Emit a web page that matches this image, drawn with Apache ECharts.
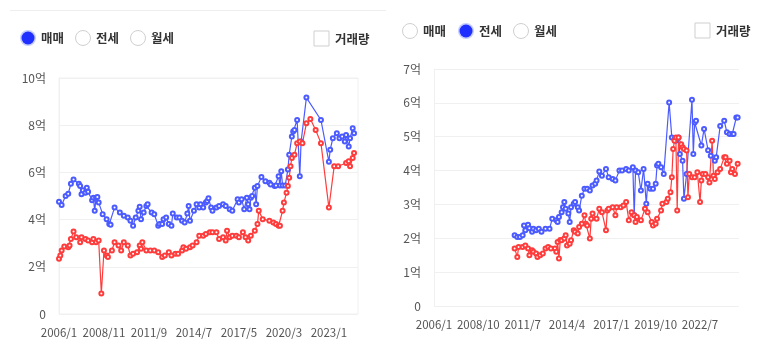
<!DOCTYPE html>
<html><head><meta charset="utf-8">
<script src="https://cdn.jsdelivr.net/npm/echarts@6/dist/echarts.min.js"></script>
<style>html,body{margin:0;padding:0;background:#fff}#c{width:772px;height:357px}</style>
</head><body><div id="c"></div>
<script>
// Monthly categories (left: 2006/1–2024/11, right: 2006/1–2024/12)
const leftMonths = [];
const rightMonths = [];
for (let y = 2006; y <= 2024; y++) for (let m = 1; m <= 12; m++) {
  const s = y + '/' + m;
  if (leftMonths.length < 227) leftMonths.push(s);
  rightMonths.push(s);
}
const leftTicks = [0, 2, 4, 6, 8, 10];
const rightTicks = [0, 1, 2, 3, 4, 5, 6, 7];
const tabs = ['매매', '전세', '월세'];
const volumeLabel = '거래량';

// 매매 (left panel), unit 억
const saleBlue = [
['2006/1',4.76],['2006/3',4.62],['2006/6',5.0],['2006/8',5.1],['2006/10',5.52],['2006/12',5.7],['2007/4',5.52],['2007/5',5.42],['2007/6',5.07],['2007/7',5.24],['2007/9',5.14],['2007/10',5.35],['2007/11',5.18],['2008/2',4.82],['2008/3',4.93],['2008/4',4.37],['2008/5',4.93],['2008/6',4.96],['2008/7',4.72],['2008/10',4.23],['2009/1',4.02],['2009/3',3.81],['2009/4',3.78],['2009/7',4.51],['2009/11',4.30],['2010/2',4.16],['2010/5',4.09],['2010/7',3.95],['2010/9',3.74],['2010/11',4.09],['2011/1',4.37],['2011/2',4.54],['2011/3',4.02],['2011/5',4.30],['2011/7',4.58],['2011/8',4.65],['2011/11',4.30],['2012/1',4.23],['2012/4',3.74],['2012/5',3.81],['2012/7',3.81],['2012/8',4.02],['2012/10',4.09],['2012/12',3.81],['2013/2',3.74],['2013/3',4.26],['2013/6',4.09],['2013/8',4.09],['2013/10',3.95],['2013/12',3.88],['2014/2',4.26],['2014/3',4.58],['2014/4',3.95],['2014/7',4.37],['2014/9',4.65],['2014/11',4.51],['2014/12',4.65],['2015/2',4.51],['2015/4',4.72],['2015/5',4.79],['2015/6',4.90],['2015/8',4.51],['2015/9',4.37],['2015/12',4.51],['2016/2',4.58],['2016/5',4.65],['2016/7',4.58],['2016/10',4.44],['2016/12',4.37],['2017/4',4.86],['2017/5',4.72],['2017/7',4.86],['2017/9',4.44],['2017/11',4.93],['2017/12',4.65],['2018/1',4.44],['2018/2',4.93],['2018/3',5.0],['2018/5',5.35],['2018/6',4.65],['2018/7',5.42],['2018/10',5.8],['2019/1',5.63],['2019/4',5.56],['2019/5',5.49],['2019/8',5.42],['2019/9',5.45],['2019/11',5.84],['2019/12',5.45],['2020/1',6.05],['2020/2',5.45],['2020/4',5.45],['2020/6',6.12],['2020/7',6.75],['2020/9',7.52],['2020/10',7.73],['2020/11',7.80],['2021/1',8.22],['2021/3',5.84],['2021/4',7.31],['2021/8',9.17],['2022/7',8.22],['2023/1',6.45],['2023/2',6.96],['2023/4',7.45],['2023/7',7.66],['2023/9',7.45],['2023/11',7.52],['2024/1',7.31],['2024/2',7.59],['2024/4',7.10],['2024/5',7.45],['2024/7',7.87],['2024/8',7.66]
];
const saleRed = [
['2006/1',2.34],['2006/2',2.48],['2006/3',2.69],['2006/5',2.86],['2006/8',2.83],['2006/9',2.9],['2006/10',3.18],['2006/12',3.50],['2007/2',3.25],['2007/5',3.04],['2007/6',3.25],['2007/9',3.18],['2007/11',3.11],['2008/2',3.04],['2008/3',3.18],['2008/5',3.04],['2008/7',3.11],['2008/9',0.87],['2008/11',2.69],['2009/1',2.48],['2009/2',2.41],['2009/5',2.69],['2009/7',3.04],['2009/10',2.90],['2009/12',2.69],['2010/2',3.04],['2010/5',2.90],['2010/7',2.48],['2010/9',2.55],['2010/12',2.62],['2011/2',2.90],['2011/3',2.76],['2011/4',3.04],['2011/7',2.69],['2011/10',2.69],['2012/1',2.69],['2012/4',2.62],['2012/7',2.41],['2012/9',2.48],['2012/12',2.62],['2013/2',2.48],['2013/5',2.55],['2013/7',2.55],['2013/10',2.69],['2013/11',2.83],['2014/1',2.76],['2014/4',2.83],['2014/6',2.90],['2014/9',3.04],['2014/11',3.32],['2015/2',3.32],['2015/4',3.39],['2015/7',3.46],['2015/9',3.46],['2015/12',3.46],['2016/2',3.18],['2016/5',3.25],['2016/7',3.11],['2016/8',3.53],['2016/10',3.25],['2016/12',3.32],['2017/3',3.32],['2017/5',3.25],['2017/8',3.46],['2017/10',3.25],['2017/12',3.11],['2018/2',3.32],['2018/5',3.53],['2018/7',3.81],['2018/8',4.37],['2018/11',4.02],['2019/4',3.95],['2019/7',3.88],['2019/9',3.81],['2019/11',3.74],['2019/12',3.74],['2020/2',4.37],['2020/3',4.72],['2020/5',5.14],['2020/6',5.42],['2020/7',5.77],['2020/8',6.26],['2020/9',6.61],['2020/11',6.75],['2021/1',7.24],['2021/3',7.31],['2021/5',7.24],['2021/8',8.08],['2021/11',8.26],['2022/3',7.80],['2022/7',7.24],['2023/1',4.51],['2023/5',6.26],['2023/8',6.26],['2024/2',6.40],['2024/4',6.47],['2024/5',6.26],['2024/7',6.61],['2024/8',6.82]
];

// 전세 (right panel), unit 억
const jeonseBlue = [
['2011/1',2.09],['2011/3',2.04],['2011/5',2.04],['2011/7',2.09],['2011/8',2.38],['2011/9',2.24],['2011/11',2.40],['2011/12',2.30],['2012/2',2.19],['2012/3',2.28],['2012/5',2.24],['2012/7',2.28],['2012/9',2.19],['2012/12',2.28],['2013/3',2.28],['2013/5',2.58],['2013/8',2.53],['2013/9',2.48],['2013/10',2.63],['2013/12',2.77],['2014/1',2.92],['2014/2',3.07],['2014/3',2.87],['2014/5',2.73],['2014/6',2.48],['2014/7',2.92],['2014/9',3.02],['2014/10',3.07],['2014/12',2.92],['2015/1',2.82],['2015/3',3.26],['2015/5',3.46],['2015/7',3.46],['2015/9',3.41],['2015/11',3.56],['2016/1',3.61],['2016/2',3.71],['2016/4',3.97],['2016/6',3.85],['2016/9',4.05],['2016/11',3.80],['2017/2',3.75],['2017/4',3.71],['2017/7',4.0],['2017/9',4.0],['2017/12',4.05],['2018/2',4.0],['2018/5',4.10],['2018/6',2.68],['2018/7',4.0],['2018/9',3.95],['2018/11',3.41],['2019/1',4.05],['2019/3',3.02],['2019/4',3.61],['2019/6',3.46],['2019/8',3.46],['2019/10',3.61],['2019/11',4.15],['2019/12',4.2],['2020/2',4.1],['2020/4',3.90],['2020/8',6.01],['2020/10',4.98],['2020/12',4.93],['2021/1',4.88],['2021/3',4.98],['2021/4',4.49],['2021/6',4.29],['2021/7',3.17],['2021/9',3.9],['2022/1',6.09],['2022/2',4.49],['2022/3',5.42],['2022/4',5.47],['2022/8',4.74],['2022/10',5.23],['2023/1',4.6],['2023/3',4.44],['2023/6',4.29],['2023/7',4.39],['2023/10',5.32],['2024/1',5.47],['2024/3',5.13],['2024/5',5.08],['2024/7',5.08],['2024/8',5.08],['2024/10',5.57],['2024/11',5.57]
];
const jeonseRed = [
['2011/1',1.70],['2011/3',1.45],['2011/4',1.74],['2011/7',1.74],['2011/9',1.79],['2011/11',1.70],['2011/12',1.50],['2012/2',1.65],['2012/3',1.60],['2012/5',1.55],['2012/6',1.45],['2012/8',1.50],['2012/10',1.55],['2012/12',1.70],['2013/2',1.74],['2013/4',1.70],['2013/7',1.70],['2013/8',1.60],['2013/9',1.89],['2013/10',1.40],['2013/11',1.95],['2013/12',1.94],['2014/2',1.99],['2014/3',2.09],['2014/4',1.79],['2014/6',1.84],['2014/7',1.94],['2014/9',2.24],['2014/10',2.19],['2014/12',2.14],['2015/1',2.33],['2015/3',2.43],['2015/5',2.68],['2015/6',2.43],['2015/7',2.38],['2015/9',1.99],['2015/10',2.58],['2015/11',2.73],['2016/2',2.58],['2016/4',2.87],['2016/6',2.77],['2016/9',2.24],['2016/10',2.82],['2016/11',2.87],['2017/2',2.92],['2017/4',2.68],['2017/5',2.92],['2017/8',2.92],['2017/10',2.97],['2017/12',3.07],['2018/2',2.53],['2018/4',2.77],['2018/6',2.68],['2018/7',2.48],['2018/8',2.63],['2018/11',2.53],['2019/2',2.87],['2019/4',2.77],['2019/7',2.48],['2019/8',2.38],['2019/10',2.43],['2019/11',2.58],['2020/2',2.82],['2020/3',3.02],['2020/6',3.07],['2020/7',3.17],['2020/9',3.36],['2020/10',3.80],['2020/11',4.64],['2020/12',4.88],['2021/1',4.98],['2021/2',2.82],['2021/3',4.98],['2021/5',4.78],['2021/6',4.69],['2021/7',4.64],['2021/9',4.59],['2021/10',3.21],['2021/11',3.9],['2022/1',3.80],['2022/3',3.80],['2022/5',3.95],['2022/7',3.07],['2022/8',3.71],['2022/9',3.90],['2022/11',3.90],['2023/1',3.80],['2023/2',3.65],['2023/4',4.88],['2023/5',3.85],['2023/6',3.75],['2023/8',3.95],['2023/10',4.05],['2024/1',4.39],['2024/2',4.39],['2024/3',4.2],['2024/5',4.29],['2024/6',3.95],['2024/7',4.05],['2024/9',3.90],['2024/11',4.2]
];

const BLUE = '#4b5bff';
const RED = '#ff3c3c';
const FONT = '"Noto Sans CJK KR", "Noto Sans", sans-serif';
const fmt = v => v === 0 ? '0' : v + '억';

function lineSeries(name, data, color, idx) {
  return {
    name, type: 'line', data, xAxisIndex: idx, yAxisIndex: idx,
    symbol: 'emptyCircle', symbolSize: 4, showAllSymbol: true,
    lineStyle: { color, width: 1.2 },
    itemStyle: { color, borderColor: color, borderWidth: 1 },
    animation: false
  };
}
function xAx(idx, data, interval) {
  return {
    type: 'category', gridIndex: idx, data, boundaryGap: false,
    axisLine: { show: false }, axisTick: { show: false },
    axisLabel: { interval, color: '#555', fontSize: 11.5, fontFamily: FONT, margin: 13 },
    splitLine: { show: false }
  };
}
function yAx(idx, max, interval) {
  return {
    type: 'value', gridIndex: idx, min: 0, max, interval,
    axisLine: { show: true, lineStyle: { color: '#f0f0f0' } }, axisTick: { show: false },
    axisLabel: { formatter: fmt, color: '#555', fontSize: 12, fontFamily: FONT, margin: 13 },
    splitLine: { lineStyle: { color: '#f0f0f0' } }
  };
}

function radio(cx, cy, label, selected) {
  const els = [];
  if (selected) {
    els.push({ type: 'circle', shape: { cx, cy, r: 8 }, style: { fill: '#c5ccff' } });
    els.push({ type: 'circle', shape: { cx, cy, r: 6.5 }, style: { fill: '#1f2fff' } });
  } else {
    els.push({ type: 'circle', shape: { cx, cy, r: 7.5 }, style: { fill: '#fff', stroke: '#cfcfcf', lineWidth: 1 } });
  }
  els.push({ type: 'text', x: cx + 13, y: cy, style: { text: label, fill: '#333', font: 'bold 12.5px ' + FONT, verticalAlign: 'middle' } });
  return els;
}
function checkbox(x, y, label) {
  return [
    { type: 'rect', shape: { x, y, width: 15, height: 15 }, style: { fill: '#fff', stroke: '#cfcfcf', lineWidth: 1 } },
    { type: 'text', x: x + 21, y: y + 8, style: { text: label, fill: '#333', font: 'bold 12.5px ' + FONT, verticalAlign: 'middle' } }
  ];
}

const graphics = [
  { type: 'line', shape: { x1: 10, y1: 10.5, x2: 386, y2: 10.5 }, style: { stroke: '#eeeeee', lineWidth: 1 } },
  ...radio(28, 38, tabs[0], true), ...radio(83, 38, tabs[1], false), ...radio(138, 38, tabs[2], false),
  ...checkbox(314, 31, volumeLabel),
  ...radio(410, 31, tabs[0], false), ...radio(466, 31, tabs[1], true), ...radio(521, 31, tabs[2], false),
  ...checkbox(695, 23, volumeLabel)
];

const chart = echarts.init(document.getElementById('c'), null, { renderer: 'canvas' });
chart.setOption({
  animation: false,
  textStyle: { fontFamily: FONT },
  grid: [
    { left: 59, top: 78, width: 299, height: 236, show: true, borderColor: '#f0f0f0', borderWidth: 1, containLabel: false },
    { left: 434, top: 69, width: 305, height: 237, containLabel: false }
  ],
  xAxis: [xAx(0, leftMonths, 33), xAx(1, rightMonths, 32)],
  yAxis: [yAx(0, leftTicks[leftTicks.length - 1], 2), yAx(1, rightTicks[rightTicks.length - 1], 1)],
  series: [
    lineSeries('매매 상위', saleBlue, BLUE, 0),
    lineSeries('매매 하위', saleRed, RED, 0),
    lineSeries('전세 상위', jeonseBlue, BLUE, 1),
    lineSeries('전세 하위', jeonseRed, RED, 1)
  ],
  graphic: graphics
});
</script></body></html>
